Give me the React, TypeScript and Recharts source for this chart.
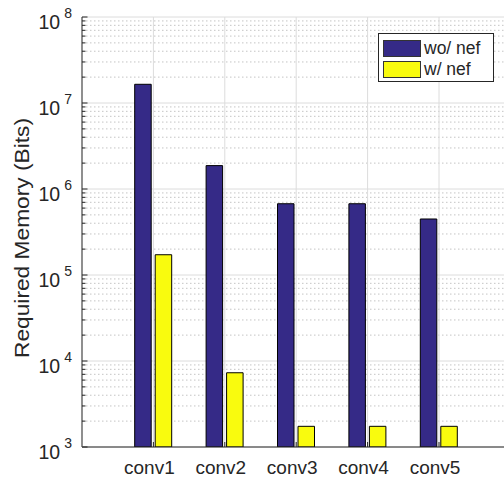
import React from 'react';
import { BarChart, Bar, XAxis, YAxis, ReferenceLine, Label } from 'recharts';

// (log axis, bits)
const categories = ['conv1', 'conv2', 'conv3', 'conv4', 'conv5'];
const withoutNef = [1.65e7, 1.87e6, 6.74e5, 6.74e5, 4.48e5];
const withNef = [1.72e5, 7.3e3, 1.74e3, 1.74e3, 1.74e3];

const decades = [1e3, 1e4, 1e5, 1e6, 1e7, 1e8];
const minorSteps = [2, 3, 4, 5, 6, 7, 8, 9];

const seriesNames = ['wo/ nef', 'w/ nef'];
const seriesColors = ['#352A87', '#F9FB0E'];

const FONT = '"Liberation Sans", Arial, Helvetica, sans-serif';
const AXIS = '#262626';
const TEXT = '#262626';

const minorTicks = decades.slice(0, -1).flatMap((d) => minorSteps.map((m) => m * d));
const allTicks = [...decades, ...minorTicks].sort((a, b) => a - b);

const data = categories.map((name, i) => ({
  name,
  wo: withoutNef[i],
  w: withNef[i],
}));

const isDecade = (v: number) => {
  const e = Math.round(Math.log10(v));
  return Math.abs(v - Math.pow(10, e)) < v * 1e-6;
};

const LogTick = (props: any) => {
  const { x, y, payload } = props;
  const v = payload.value;
  const major = isDecade(v);
  const exp = Math.round(Math.log10(v));
  return (
    <g>
      <line x1={x} y1={y} x2={x + (major ? 5.5 : 3.5)} y2={y} stroke={AXIS} strokeWidth={1} />
      {major && (
        <text x={x - 10} y={y + 12} textAnchor="end" fontSize={19.5} fill={TEXT} fontFamily={FONT}>
          <tspan>10</tspan>
          <tspan dx={4} dy={-11} fontSize={14}>
            {exp}
          </tspan>
        </text>
      )}
    </g>
  );
};

const BottomTick = (props: any) => {
  const { x, y, payload } = props;
  return (
    <g>
      <line x1={x} y1={y} x2={x} y2={y - 5} stroke={AXIS} />
      <text x={x - 4} y={y + 27} textAnchor="middle" fontSize={19} fill={TEXT} fontFamily={FONT}>
        {payload.value}
      </text>
    </g>
  );
};

const TopTick = (props: any) => {
  const { x, y } = props;
  return <line x1={x} y1={y} x2={x} y2={y + 5} stroke={AXIS} />;
};

const YTitle = (props: any) => {
  const vb = props.viewBox || { x: 0, y: 17, width: 82, height: 430 };
  const cx = vb.x + 21;
  const cy = vb.y + vb.height / 2 + 6;
  return (
    <text
      x={cx}
      y={cy}
      transform={`rotate(-90, ${cx}, ${cy})`}
      textAnchor="middle"
      dominantBaseline="central"
      fontSize={21}
      textLength={240}
      lengthAdjust="spacingAndGlyphs"
      fill={TEXT}
      fontFamily={FONT}
    >
      Required Memory (Bits)
    </text>
  );
};

export default function App() {
  return (
    <div
      style={{
        position: 'fixed',
        left: 0,
        top: 0,
        width: 504,
        height: 479,
        overflow: 'hidden',
        background: '#fff',
        fontFamily: FONT,
      }}
    >
      <BarChart
        width={540}
        height={500}
        data={data}
        margin={{ top: 17, right: 29.6, bottom: 13, left: 0 }}
        barSize={16.5}
        barGap={4}
      >
        {/* grid: solid at decades, dotted at minor steps */}
        {minorTicks.map((v) => (
          <ReferenceLine
            key={`m${v}`}
            y={v}
            stroke="#c4c4c4"
            strokeDasharray="1.5 2.5"
            zIndex={-100}
          />
        ))}
        {decades.map((v) => (
          <ReferenceLine key={`d${v}`} y={v} stroke="#dcdcdc" zIndex={-100} />
        ))}
        {categories.map((c) => (
          <ReferenceLine key={c} x={c} stroke="#dcdcdc" zIndex={-100} />
        ))}
        <XAxis
          dataKey="name"
          height={40}
          padding={{ left: 35.7, right: 35.7 }}
          tickSize={0}
          tickMargin={0}
          interval={0}
          axisLine={{ stroke: AXIS }}
          tick={<BottomTick />}
        />
        <XAxis
          xAxisId="top"
          orientation="top"
          dataKey="name"
          height={0}
          padding={{ left: 35.7, right: 35.7 }}
          tickSize={0}
          tickMargin={0}
          interval={0}
          axisLine={{ stroke: AXIS }}
          tick={<TopTick />}
        />
        <YAxis
          scale="log"
          domain={[1e3, 1e8]}
          ticks={allTicks}
          interval={0}
          width={82}
          tickSize={0}
          tickMargin={0}
          axisLine={{ stroke: '#6a6a6a', strokeWidth: 1.5 }}
          tick={<LogTick />}
          allowDataOverflow
        >
          <Label content={<YTitle />} />
        </YAxis>
        <Bar dataKey="wo" name={seriesNames[0]} fill={seriesColors[0]} stroke="#000" strokeWidth={1} isAnimationActive={false} />
        <Bar dataKey="w" name={seriesNames[1]} fill={seriesColors[1]} stroke="#000" strokeWidth={1} isAnimationActive={false} />
      </BarChart>

      {/* legend box */}
      <div
        style={{
          position: 'absolute',
          left: 378,
          top: 33,
          width: 116,
          height: 49,
          boxSizing: 'border-box',
          border: `1px solid ${AXIS}`,
          background: '#fff',
          padding: '4px 0 0 4px',
        }}
      >
        {seriesNames.map((n, i) => (
          <div key={n} style={{ display: 'flex', alignItems: 'center', height: 21 }}>
            <div
              style={{
                width: 38,
                height: 17,
                boxSizing: 'border-box',
                background: seriesColors[i],
                border: '1px solid #333',
                marginRight: 3,
              }}
            />
            <span style={{ fontSize: 17.5, color: TEXT, lineHeight: '21px' }}>{n}</span>
          </div>
        ))}
      </div>
    </div>
  );
}
